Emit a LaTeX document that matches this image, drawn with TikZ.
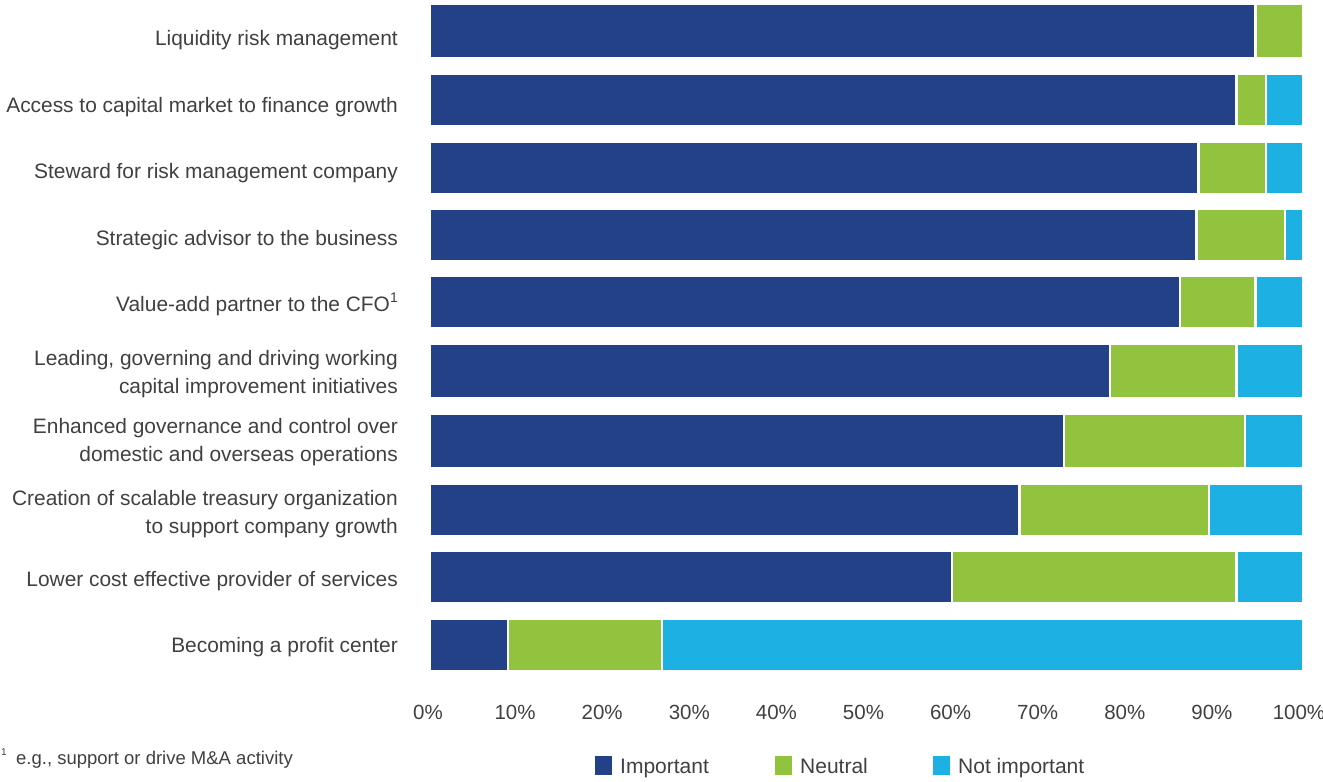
\documentclass[tikz,border=0pt]{standalone}
\usepackage{fontspec}
\setmainfont{Liberation Sans}
\definecolor{navy}{RGB}{34,65,135}
\definecolor{lgreen}{RGB}{146,195,62}
\definecolor{cyanb}{RGB}{29,176,226}
\definecolor{txt}{RGB}{64,64,64}
\begin{document}
\begin{tikzpicture}[x=1pt,y=-1pt,
  lab/.style={anchor=base east,inner sep=0pt,text=txt,font=\fontsize{20.9}{24}\selectfont},
  tick/.style={anchor=base,inner sep=0pt,text=txt,font=\fontsize{20.5}{24}\selectfont},
  leg/.style={anchor=base west,inner sep=0pt,text=txt,font=\fontsize{21}{24}\selectfont},
  foot/.style={anchor=base west,inner sep=0pt,text=txt,font=\fontsize{18.5}{22}\selectfont}]
\useasboundingbox (0,0) rectangle (1323,782);
% bars: top, bottom, navy end, green end
\newcommand{\segbar}[4]{%
  \fill[navy] (431,#1) rectangle (#3-1.2,#2);
  \fill[lgreen] (#3+1.2,#1) rectangle (#4-1.2,#2);
  \fill[cyanb] (#4+1.2,#1) rectangle (1302,#2);}
\fill[navy] (431,5) rectangle (1254.3,57);
\fill[lgreen] (1256.7,5) rectangle (1302,57);
\segbar{75}{125}{1236.5}{1266}
\segbar{143}{193}{1198.5}{1266}
\segbar{210}{260}{1196.5}{1285}
\segbar{277}{327}{1180}{1255.5}
\segbar{345}{397}{1110}{1236.5}
\segbar{415}{467}{1064}{1245}
\segbar{485}{535}{1019.5}{1209}
\segbar{552}{602}{952}{1236.5}
\segbar{620}{670}{508}{662}
% labels
\node[lab] (l1) at (398,45) {Liquidity risk management};
\node[lab] (l2) at (398,112) {Access to capital market to finance growth};
\node[lab] (l3) at (398,178) {Steward for risk management company};
\node[lab] (l4) at (398,245) {Strategic advisor to the business};
\node[lab] (l5) at (398,311) {Value-add partner to the CFO\raisebox{0.4em}{\fontsize{14}{15}\selectfont 1}};
\node[lab] (l6a) at (398,365) {Leading, governing and driving working};
\node[lab] (l6b) at (398,393) {capital improvement initiatives};
\node[lab] (l7a) at (398,433) {Enhanced governance and control over};
\node[lab] (l7b) at (398,461) {domestic and overseas operations};
\node[lab] (l8a) at (398,505) {Creation of scalable treasury organization};
\node[lab] (l8b) at (398,533) {to support company growth};
\node[lab] (l9) at (398,586) {Lower cost effective provider of services};
\node[lab] (l10) at (398,652) {Becoming a profit center};
% ticks
\foreach \i in {0,...,10}{
  \node[tick] (t\i) at ({428+87.1*\i},719) {\the\numexpr\i*10\relax\%};
}
% legend
\fill[navy] (595,756) rectangle (612,775);
\node[leg] (li) at (620,773) {Important};
\fill[lgreen] (775,756) rectangle (792,775);
\node[leg] (ln) at (800,773) {Neutral};
\fill[cyanb] (933,756) rectangle (950,775);
\node[leg] (lni) at (958,773) {Not important};
% footnote
\node[foot] (fn1) at (1,755) {\fontsize{10}{12}\selectfont 1};
\node[foot] (fn) at (16,764) {e.g., support or drive M\&A activity};
\end{tikzpicture}
\end{document}
